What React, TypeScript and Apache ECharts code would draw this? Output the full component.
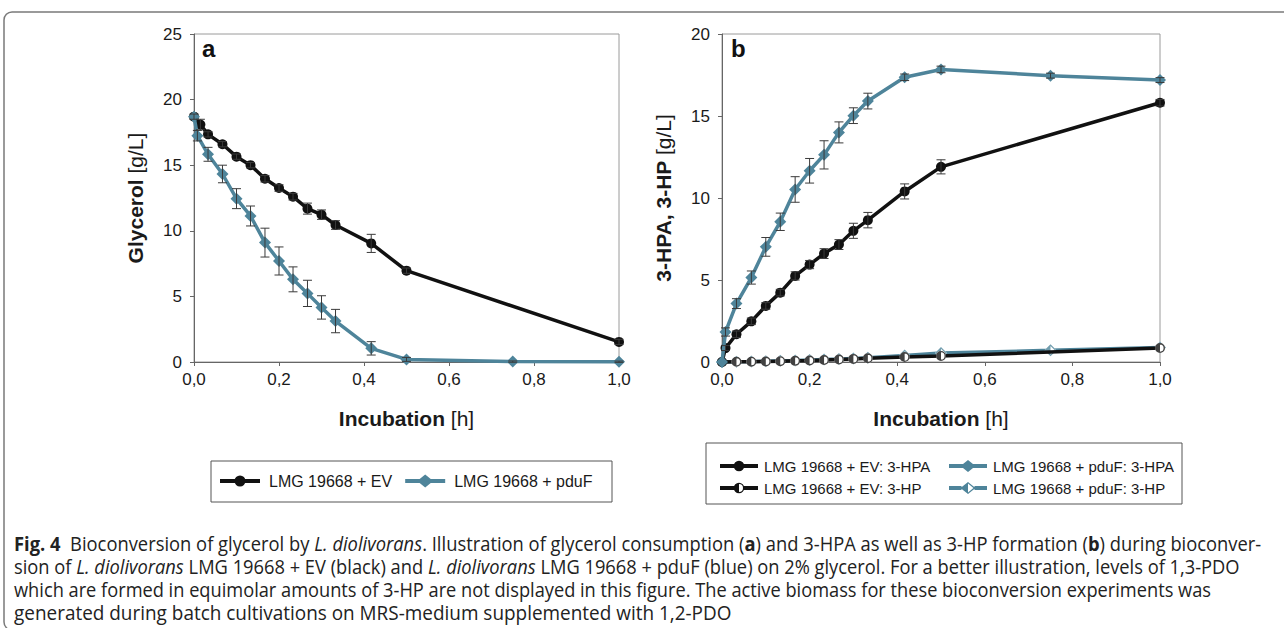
import React, { useEffect, useRef } from 'react';
import * as echarts from 'echarts';

// ---------------- data ----------------
const X_TICKS = [0, 0.2, 0.4, 0.6, 0.8, 1.0];
const Y_TICKS_A = [0, 5, 10, 15, 20, 25];
const Y_TICKS_B = [0, 5, 10, 15, 20];

// Panel a: glycerol [g/L]
const T_EV_GLY = [0, 0.015, 0.033, 0.067, 0.1, 0.133, 0.167, 0.2, 0.233, 0.267, 0.3, 0.333, 0.417, 0.5, 1.0];
const EV_GLY = [18.7, 18.1, 17.35, 16.6, 15.65, 15.0, 13.97, 13.26, 12.6, 11.69, 11.23, 10.44, 9.04, 6.96, 1.53];
const EV_GLY_ERR = [0, 0.4, 0.2, 0.2, 0.2, 0.2, 0.25, 0.25, 0.25, 0.42, 0.36, 0.33, 0.69, 0.2, 0.2];

const T_PF_GLY = [0, 0.008, 0.033, 0.067, 0.1, 0.133, 0.167, 0.2, 0.233, 0.267, 0.3, 0.333, 0.417, 0.5, 0.75, 1.0];
const PF_GLY = [18.7, 17.25, 15.83, 14.33, 12.45, 11.13, 9.1, 7.7, 6.3, 5.23, 4.16, 3.12, 1.04, 0.2, 0.03, 0.02];
const PF_GLY_ERR = [0.2, 0.4, 0.53, 0.67, 0.76, 0.76, 1.1, 1.07, 0.95, 1.0, 0.89, 0.89, 0.51, 0.15, 0.05, 0.05];

// Panel b: 3-HPA / 3-HP [g/L]
const T_EV_HPA = [0, 0.008, 0.033, 0.067, 0.1, 0.133, 0.167, 0.2, 0.233, 0.267, 0.3, 0.333, 0.417, 0.5, 1.0];
const EV_HPA = [0, 0.85, 1.69, 2.48, 3.42, 4.23, 5.25, 5.94, 6.61, 7.16, 8.0, 8.65, 10.4, 11.9, 15.81];
const EV_HPA_ERR = [0, 0.15, 0.2, 0.2, 0.2, 0.2, 0.25, 0.25, 0.3, 0.3, 0.46, 0.47, 0.46, 0.43, 0.2];

const T_PF_HPA = [0, 0.008, 0.033, 0.067, 0.1, 0.133, 0.167, 0.2, 0.233, 0.267, 0.3, 0.333, 0.417, 0.5, 0.75, 1.0];
const PF_HPA = [0, 1.83, 3.56, 5.15, 7.02, 8.55, 10.52, 11.66, 12.63, 14.0, 15.02, 15.91, 17.36, 17.84, 17.46, 17.19];
const PF_HPA_ERR = [0, 0.25, 0.3, 0.4, 0.57, 0.53, 0.78, 0.75, 0.86, 0.64, 0.48, 0.48, 0.2, 0.2, 0.15, 0.15];

const T_EV_HP = [0, 0.033, 0.067, 0.1, 0.133, 0.167, 0.2, 0.233, 0.267, 0.3, 0.333, 0.417, 0.5, 1.0];
const EV_HP = [0, 0.01, 0.02, 0.03, 0.05, 0.07, 0.09, 0.12, 0.15, 0.19, 0.23, 0.3, 0.37, 0.85];

const T_PF_HP = [0, 0.033, 0.067, 0.1, 0.133, 0.167, 0.2, 0.233, 0.267, 0.3, 0.333, 0.417, 0.5, 0.75, 1.0];
const PF_HP = [0, 0.02, 0.03, 0.05, 0.07, 0.09, 0.12, 0.15, 0.18, 0.22, 0.26, 0.4, 0.55, 0.71, 0.88];

const N_EV = 'LMG 19668 + EV';
const N_PF = 'LMG 19668 + pduF';
const N_EV_HPA = 'LMG 19668 + EV: 3-HPA';
const N_EV_HP = 'LMG 19668 + EV: 3-HP';
const N_PF_HPA = 'LMG 19668 + pduF: 3-HPA';
const N_PF_HP = 'LMG 19668 + pduF: 3-HP';

type Seg = [string, 'n' | 'b' | 'i'];
const CAPTION: Seg[][] = [
  [
    ['Fig. 4  ', 'b'],
    ['Bioconversion of glycerol by ', 'n'],
    ['L. diolivorans', 'i'],
    ['. Illustration of glycerol consumption (', 'n'],
    ['a', 'b'],
    [') and 3-HPA as well as 3-HP formation (', 'n'],
    ['b', 'b'],
    [') during bioconver-', 'n'],
  ],
  [
    ['sion of ', 'n'],
    ['L. diolivorans ', 'i'],
    ['LMG 19668 + EV (black) and ', 'n'],
    ['L. diolivorans ', 'i'],
    ['LMG 19668 + pduF (blue) on 2% glycerol. For a better illustration, levels of 1,3-PDO', 'n'],
  ],
  [['which are formed in equimolar amounts of 3-HP are not displayed in this figure. The active biomass for these bioconversion experiments was', 'n']],
  [['generated during batch cultivations on MRS-medium supplemented with 1,2-PDO', 'n']],
];

// ---------------- styles ----------------
const FONT = '"Liberation Sans", Arial, sans-serif';
const CAP_FONT = '"Open Sans", sans-serif';
const CAP_SIZE = 20;
const TXT = '#1a1a1a';
const AXIS = '#666';
const BLACK = '#111111';
const BLUE = '#4e849a';
const ERR = '#3a3a3a';

const zip = (t: number[], v: number[]) => t.map((x, i) => [x, v[i]]);
const zip3 = (t: number[], v: number[], e: number[]) => t.map((x, i) => [x, v[i], e[i]]);

// marker shapes (0..100 box)
const CIRC_HALF = 'path://M50,100 A50,50 0 0,1 50,0 Z M50,0 A50,50 0 0,1 50,100 L50,86 A36,36 0 0,0 50,14 Z';
const DIAM_HALF = 'path://M50,100 L0,50 L50,0 Z M50,0 L100,50 L50,100 L50,86 L86,50 L50,14 Z';

// legend icons
function bar(x0: number, x1: number, cy: number, t: number) {
  return `M${x0},${cy - t / 2} H${x1} V${cy + t / 2} H${x0} Z `;
}
function iconCircle(W: number, r: number, t: number) {
  const cx = W / 2, cy = r;
  return 'path://' + bar(0, W, cy, t) +
    `M${cx - r},${cy} A${r},${r} 0 1,1 ${cx + r},${cy} A${r},${r} 0 1,1 ${cx - r},${cy} Z`;
}
function iconHalfCircle(W: number, r: number, t: number) {
  const cx = W / 2, cy = r, ri = r - 1.3;
  return 'path://' + bar(0, cx - r + 1, cy, t) + bar(cx + r - 0.5, W, cy, t) +
    `M${cx},${cy + r} A${r},${r} 0 0,1 ${cx},${cy - r} Z ` +
    `M${cx},${cy - r} A${r},${r} 0 0,1 ${cx},${cy + r} L${cx},${cy + ri} A${ri},${ri} 0 0,0 ${cx},${cy - ri} Z`;
}
function iconDiamond(W: number, dw: number, dh: number, t: number) {
  const cx = W / 2, cy = dh / 2;
  return 'path://' + bar(0, W, cy, t) +
    `M${cx - dw / 2},${cy} L${cx},${cy - dh / 2} L${cx + dw / 2},${cy} L${cx},${cy + dh / 2} Z`;
}
function iconHalfDiamond(W: number, dw: number, dh: number, t: number) {
  const cx = W / 2, cy = dh / 2, k = 1.6;
  return 'path://' + bar(0, cx - dw / 2 + 1, cy, t) + bar(cx + dw / 2 - 1, W, cy, t) +
    `M${cx},${cy + dh / 2} L${cx - dw / 2},${cy} L${cx},${cy - dh / 2} Z ` +
    `M${cx},${cy - dh / 2} L${cx + dw / 2},${cy} L${cx},${cy + dh / 2} L${cx},${cy + dh / 2 - k} L${cx + dw / 2 - k * 1.3},${cy} L${cx},${cy - dh / 2 + k} Z`;
}

const errRender = (_p: any, api: any) => {
  const x = api.value(0), y = api.value(1), e = api.value(2);
  if (!(e > 0)) return { type: 'group', children: [] };
  const top = api.coord([x, y + e]);
  const bot = api.coord([x, y - e]);
  const hw = 4.5;
  const st = { stroke: ERR, lineWidth: 1 };
  return {
    type: 'group',
    children: [
      { type: 'line', shape: { x1: top[0], y1: top[1], x2: bot[0], y2: bot[1] }, style: st },
      { type: 'line', shape: { x1: top[0] - hw, y1: top[1], x2: top[0] + hw, y2: top[1] }, style: st },
      { type: 'line', shape: { x1: bot[0] - hw, y1: bot[1], x2: bot[0] + hw, y2: bot[1] }, style: st },
    ],
  };
};

function richName(bold: string, reg: string, size: number) {
  return {
    name: `{b|${bold} }{r|${reg}}`,
    nameTextStyle: {
      fontSize: size, fontFamily: FONT, color: TXT,
      rich: {
        b: { fontSize: size, fontFamily: FONT, fontWeight: 'bold', color: TXT },
        r: { fontSize: size, fontFamily: FONT, fontWeight: 'normal', color: TXT },
      },
    },
  };
}

function xAxis(gridIndex: number) {
  return {
    type: 'value', gridIndex,
    min: X_TICKS[0], max: X_TICKS[X_TICKS.length - 1], interval: X_TICKS[1] - X_TICKS[0],
    axisLine: { show: true, onZero: false, lineStyle: { color: AXIS, width: 1 } },
    axisTick: { show: true, length: 4, lineStyle: { color: AXIS } },
    axisLabel: { margin: 9, fontSize: 17, fontFamily: FONT, color: TXT, formatter: (v: number) => v.toFixed(1).replace('.', ',') },
    splitLine: { show: false },
    nameLocation: 'middle', nameGap: 46, nameMoveOverlap: false,
    ...richName('Incubation', '[h]', 21),
  };
}
function yAxis(gridIndex: number, ticks: number[], bold: string) {
  return {
    type: 'value', gridIndex,
    min: ticks[0], max: ticks[ticks.length - 1], interval: ticks[1] - ticks[0],
    axisLine: { show: true, onZero: false, lineStyle: { color: AXIS, width: 1 } },
    axisTick: { show: true, length: 4, lineStyle: { color: AXIS } },
    axisLabel: { margin: 12, fontSize: 17, fontFamily: FONT, color: TXT },
    splitLine: { show: false },
    nameLocation: 'middle', nameGap: 48, nameMoveOverlap: false,
    ...richName(bold, '[g/L]', 21),
  };
}

function lineSeries(name: string, data: number[][], xi: number, color: string, symbol: string, size: number, z: number, fill?: string) {
  return {
    type: 'line', name, data, xAxisIndex: xi, yAxisIndex: xi, z, clip: false, silent: true,
    symbol, symbolSize: size, showSymbol: true,
    lineStyle: { color, width: 3.5 },
    itemStyle: { color: fill || color, borderWidth: 0 },
  };
}

function captionGraphics() {
  const ctx = document.createElement('canvas').getContext('2d')!;
  const font = (k: string) => `${k === 'i' ? 'italic ' : ''}${k === 'b' ? 'bold ' : ''}${CAP_SIZE}px "Open Sans"`;
  const widths = CAPTION.map((segs) => segs.reduce((w, [t, k]) => { ctx.font = font(k); return w + ctx.measureText(t).width; }, 0));
  const X0 = 14;
  const ends = [1262, 1240, 1212, 732];
  const ys = [543, 567, 590, 612];
  const scales = widths.map((w, i) => (ends[i] - X0) / w);
  const rich = {
    n: { fontSize: CAP_SIZE, fontFamily: CAP_FONT, fontWeight: 'normal', fill: '#222' },
    b: { fontSize: CAP_SIZE, fontFamily: CAP_FONT, fontWeight: 'bold', fill: '#222' },
    i: { fontSize: CAP_SIZE, fontFamily: CAP_FONT, fontStyle: 'italic', fill: '#222' },
  };
  return CAPTION.map((segs, i) => ({
    type: 'text', x: X0, y: ys[i], scaleX: scales[i], silent: true,
    style: {
      text: segs.map(([t, k]) => `{${k}|${t}}`).join(''),
      rich, fontSize: CAP_SIZE, fontFamily: CAP_FONT, fill: '#222', verticalAlign: 'middle', align: 'left',
    },
  }));
}

function buildOption() {
  const legendText = (size: number, pad: number) => ({ fontSize: size, fontFamily: FONT, color: TXT, lineHeight: 16, padding: [0, 0, 0, pad] });
  return {
    animation: false,
    grid: [
      { left: 194, top: 34, width: 425, height: 328, show: true, borderColor: '#9a9a9a', borderWidth: 1, backgroundColor: 'transparent' },
      { left: 722, top: 34, width: 438, height: 328, show: true, borderColor: '#9a9a9a', borderWidth: 1, backgroundColor: 'transparent' },
    ],
    xAxis: [xAxis(0), xAxis(1)],
    yAxis: [yAxis(0, Y_TICKS_A, 'Glycerol'), yAxis(1, Y_TICKS_B, '3-HPA, 3-HP')],
    legend: [
      {
        left: 220, top: 473, padding: 0, orient: 'horizontal', itemWidth: 40, itemHeight: 13, itemGap: 13, selectedMode: false,
        textStyle: legendText(16, 4), itemStyle: { borderWidth: 0 },
        data: [
          { name: N_EV, icon: iconCircle(40, 5.5, 4), itemStyle: { color: BLACK } },
          { name: N_PF, icon: iconDiamond(40, 16, 13, 4), itemStyle: { color: BLUE } },
        ],
      },
      {
        left: 720, top: 458, padding: 0, orient: 'vertical', itemWidth: 38, itemHeight: 12, itemGap: 6, selectedMode: false,
        textStyle: legendText(15, 1), itemStyle: { borderWidth: 0 },
        data: [
          { name: N_EV_HPA, icon: iconCircle(38, 5.3, 4), itemStyle: { color: BLACK } },
          { name: N_EV_HP, icon: iconHalfCircle(38, 5.3, 4), itemStyle: { color: BLACK } },
        ],
      },
      {
        left: 949, top: 458, padding: 0, orient: 'vertical', itemWidth: 38, itemHeight: 12, itemGap: 6, selectedMode: false,
        textStyle: legendText(15, 1), itemStyle: { borderWidth: 0 },
        data: [
          { name: N_PF_HPA, icon: iconDiamond(38, 15, 12, 4), itemStyle: { color: BLUE } },
          { name: N_PF_HP, icon: iconHalfDiamond(38, 15, 12, 4), itemStyle: { color: BLUE } },
        ],
      },
    ],
    series: [
      // panel a
      lineSeries(N_EV, zip(T_EV_GLY, EV_GLY), 0, BLACK, 'circle', 10, 2),
      lineSeries(N_PF, zip(T_PF_GLY, PF_GLY), 0, BLUE, 'diamond', 12, 3),
      { type: 'custom', name: 'err_ev_gly', xAxisIndex: 0, yAxisIndex: 0, renderItem: errRender, data: zip3(T_EV_GLY, EV_GLY, EV_GLY_ERR), encode: { x: 0, y: 1 }, z: 8, silent: true, clip: false },
      { type: 'custom', name: 'err_pf_gly', xAxisIndex: 0, yAxisIndex: 0, renderItem: errRender, data: zip3(T_PF_GLY, PF_GLY, PF_GLY_ERR), encode: { x: 0, y: 1 }, z: 8, silent: true, clip: false },
      // panel b: 3-HP (half-filled markers)
      lineSeries(N_PF_HP, zip(T_PF_HP, PF_HP), 1, BLUE, 'diamond', 12, 2, '#ffffff'),
      { type: 'scatter', name: 'pf_hp_half', xAxisIndex: 1, yAxisIndex: 1, data: zip(T_PF_HP, PF_HP), symbol: DIAM_HALF, symbolSize: 12, itemStyle: { color: BLUE }, z: 3, silent: true, clip: false },
      lineSeries(N_EV_HP, zip(T_EV_HP, EV_HP), 1, BLACK, 'circle', 10, 4, '#ffffff'),
      { type: 'scatter', name: 'ev_hp_half', xAxisIndex: 1, yAxisIndex: 1, data: zip(T_EV_HP, EV_HP), symbol: CIRC_HALF, symbolSize: 10, itemStyle: { color: BLACK }, z: 5, silent: true, clip: false },
      // panel b: 3-HPA
      lineSeries(N_EV_HPA, zip(T_EV_HPA, EV_HPA), 1, BLACK, 'circle', 10, 6),
      lineSeries(N_PF_HPA, zip(T_PF_HPA, PF_HPA), 1, BLUE, 'diamond', 12, 7),
      { type: 'custom', name: 'err_ev_hpa', xAxisIndex: 1, yAxisIndex: 1, renderItem: errRender, data: zip3(T_EV_HPA, EV_HPA, EV_HPA_ERR), encode: { x: 0, y: 1 }, z: 8, silent: true, clip: false },
      { type: 'custom', name: 'err_pf_hpa', xAxisIndex: 1, yAxisIndex: 1, renderItem: errRender, data: zip3(T_PF_HPA, PF_HPA, PF_HPA_ERR), encode: { x: 0, y: 1 }, z: 8, silent: true, clip: false },
    ],
    graphic: [
      { type: 'rect', silent: true, shape: { x: 4, y: 12, width: 1310, height: 618, r: 8 }, style: { fill: 'none', stroke: '#7a7a7a', lineWidth: 1.5 } },
      { type: 'rect', silent: true, shape: { x: 211, y: 461, width: 401, height: 41 }, style: { fill: 'none', stroke: '#555', lineWidth: 1 } },
      { type: 'rect', silent: true, shape: { x: 706, y: 443, width: 476, height: 61 }, style: { fill: 'none', stroke: '#555', lineWidth: 1 } },
      { type: 'text', silent: true, x: 202, y: 48, style: { text: 'a', fontSize: 24, fontWeight: 'bold', fontFamily: FONT, fill: '#111', verticalAlign: 'middle' } },
      { type: 'text', silent: true, x: 731, y: 48, style: { text: 'b', fontSize: 24, fontWeight: 'bold', fontFamily: FONT, fill: '#111', verticalAlign: 'middle' } },
      ...captionGraphics(),
    ],
  };
}

export default function App() {
  const ref = useRef<HTMLDivElement>(null);
  useEffect(() => {
    const chart = echarts.init(ref.current!, null, { renderer: 'svg' });
    chart.setOption(buildOption() as any);
    return () => chart.dispose();
  }, []);
  return <div ref={ref} style={{ position: 'fixed', left: 0, top: 0, width: 1284, height: 628, background: '#ffffff' }} />;
}
